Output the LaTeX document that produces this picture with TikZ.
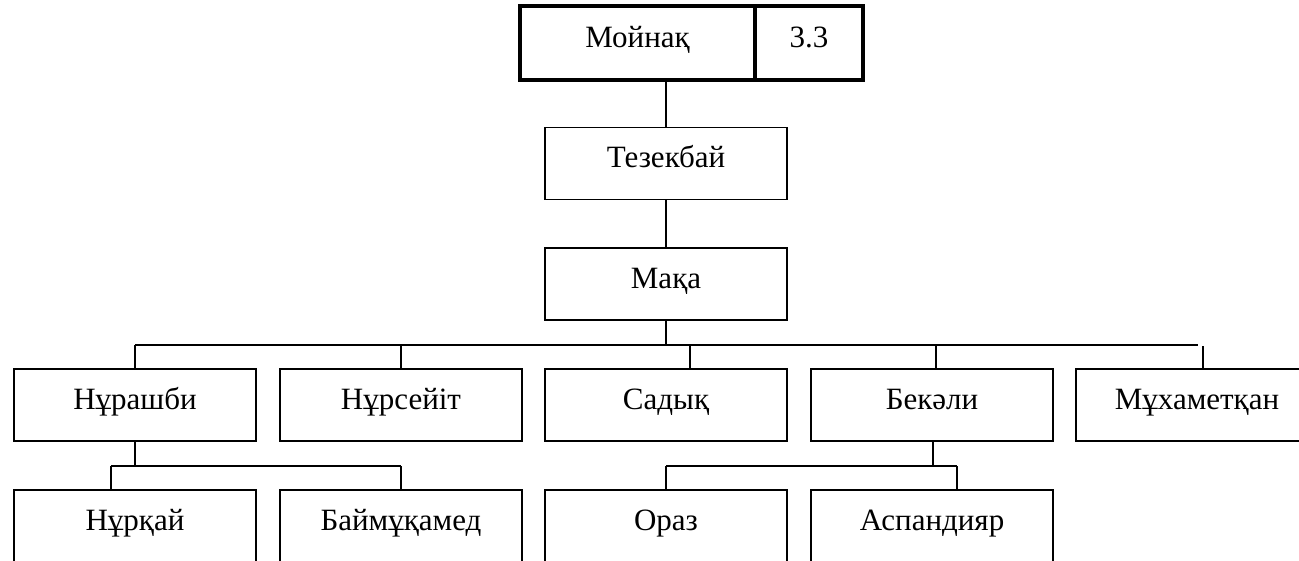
\documentclass[tikz,border=0pt]{standalone}
\usepackage{fontspec}
\setmainfont{Liberation Serif}
\usepackage{tikz}
\usetikzlibrary{positioning, calc}

\tikzset{
  famnode/.style={draw, line width=1.3pt, minimum width=242pt, minimum height=72pt,
    inner sep=0pt, text height=0.65em, text depth=0.36em},
  topnode/.style={draw, line width=4pt, minimum height=74pt, inner sep=0pt,
    text height=0.65em, text depth=0.36em},
  link/.style={line width=1.8pt}
}

\begin{document}
\begin{tikzpicture}[x=1pt, y=-1pt]
  \fontsize{31}{36}\selectfont
  \useasboundingbox (0,0) rectangle (1299,560);
  \clip (0,0) rectangle (1299,560);
  \fill[white] (0,0) rectangle (1299,560);

  % Top box
  \node[topnode, minimum width=235pt] (moinak) at (637.5,43) {Мойнақ};
  \node[topnode, minimum width=108pt] (num) at (809,43) {3.3};

  % Chain
  \node[famnode] (tezek) at (666,163.5) {Тезекбай};
  \node[famnode] (maka) at (666,284) {Мақа};

  % Sons
  \node[famnode] (nurash) at (135,405) {Нұрашби};
  \node[famnode] (nurseit) at (401,405) {Нұрсейіт};
  \node[famnode] (sadyk) at (666,405) {Садық};
  \node[famnode] (bekali) at (932,405) {Бекәли};
  \node[famnode] (muham) at (1197,405) {Мұхаметқан};

  % Grandsons
  \node[famnode] (nurkai) at (135,526) {Нұрқай};
  \node[famnode] (baimuk) at (401,526) {Баймұқамед};
  \node[famnode] (oraz) at (666,526) {Ораз};
  \node[famnode] (aspan) at (932,526) {Аспандияр};

  % Bus lines
  \coordinate (busL) at (135,345);
  \coordinate (busR) at (1198,345);
  \coordinate (subL) at (111,466);
  \coordinate (subR) at (401,466);
  \coordinate (sub2L) at (666,466);
  \coordinate (sub2R) at (957,466);

  % Connectors
  \draw[link] (tezek.north) -- (tezek.north |- moinak.south);
  \draw[link] (maka.north) -- (tezek.south);
  \draw[link] (maka.south) -- (maka.south |- busL);
  \draw[link] (busL) -- (busR);
  \draw[link] (busL) -- (nurash.north);
  \draw[link] (nurseit.north) -- (nurseit.north |- busL);
  \draw[link] ($(busL -| sadyk.north)+(24,0)$) -- ($(sadyk.north)+(24,0)$);
  \draw[link] ($(busL -| bekali.north)+(4,0)$) -- ($(bekali.north)+(4,0)$);
  \draw[link] ($(busR |- muham.north)+(5,-22)$) -- ($(busR |- muham.north)+(5,0)$);

  % Sub lines, left
  \draw[link] (nurash.south) -- (nurash.south |- subL);
  \draw[link] (subL) -- (subR);
  \draw[link] (subL) -- (subL |- nurkai.north);
  \draw[link] (subR) -- (baimuk.north);

  % Sub lines, right
  \draw[link] ($(bekali.south)+(1,0)$) -- ($(bekali.south |- sub2L)+(1,0)$);
  \draw[link] (sub2L) -- (sub2R);
  \draw[link] (sub2L) -- (oraz.north);
  \draw[link] (sub2R) -- (sub2R |- aspan.north);
\end{tikzpicture}
\end{document}
